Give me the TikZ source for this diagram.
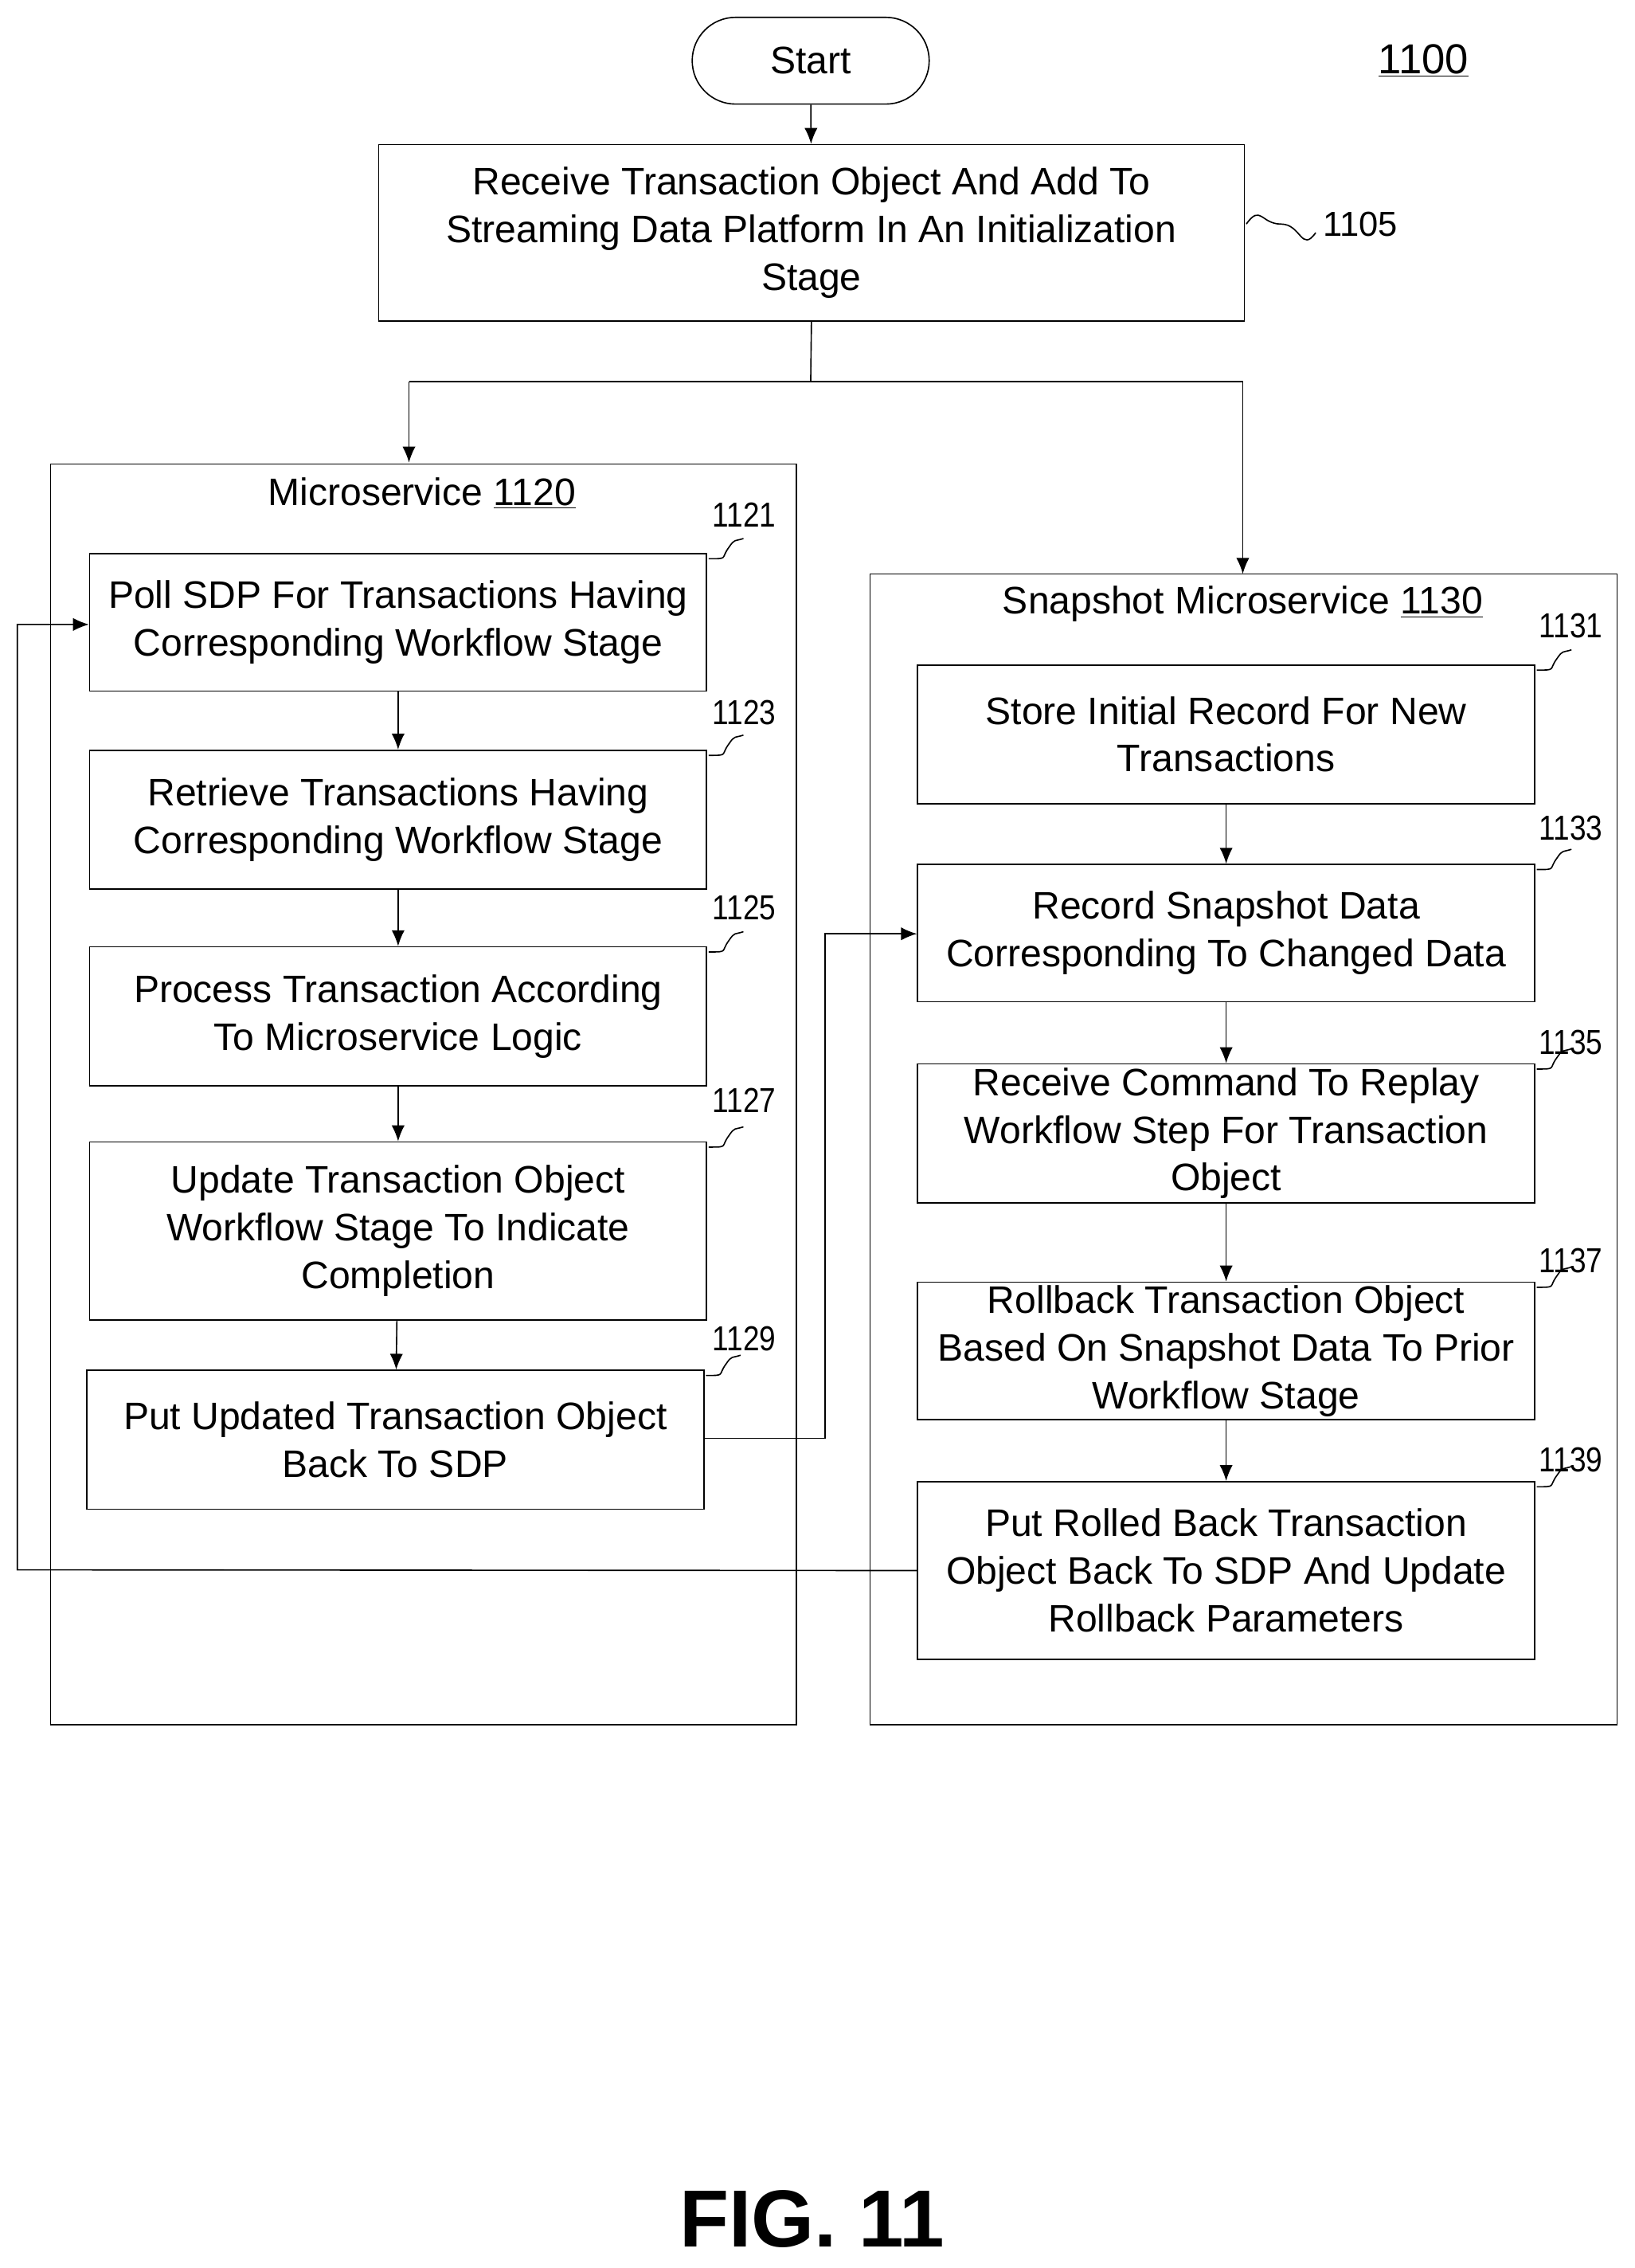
\documentclass[tikz,border=0pt]{standalone}
\usepackage{fontspec}
\setmainfont{Liberation Sans}
\usetikzlibrary{arrows.meta}
\begin{document}
\begin{tikzpicture}[x=1pt,y=-1pt,
 box/.style={draw,line width=0.9pt,align=center,inner sep=0pt,font=\fontsize{26.5}{33}\selectfont},
 cont/.style={draw,line width=0.9pt},
 lbl/.style={font=\fontsize{24}{26}\selectfont},
 arr/.style={-{Latex[length=11pt,width=9pt]},line width=0.9pt},
 ln/.style={line width=0.9pt}]
\useasboundingbox (0,0) rectangle (1131,1569);
\node[box,rounded corners=30pt,minimum width=164pt,minimum height=60pt] (start) at (561,42) {Start};
\node[font=\fontsize{29}{30}\selectfont] (n1100) at (985,42) {\underline{1100}};
\node[box,minimum width=599pt,minimum height=122pt] (b1105) at (561.5,161) {Receive Transaction Object And Add To\\Streaming Data Platform In An Initialization\\Stage};
\node[lbl,anchor=west] (l1105) at (912,155) {1105};
\draw[ln] (b1105.east)++(1,-6) coordinate (s0) .. controls +(10,-14) and +(-14,0) .. +(24,0) .. controls +(14,0) and +(-10,14) .. +(48,6);
\draw[arr] (start) -- (b1105);
% containers
\node[cont,minimum width=516pt,minimum height=872pt,inner sep=0pt] (ms) at (293,757) {};
\node[cont,minimum width=517pt,minimum height=796pt,inner sep=0pt] (ss) at (860.5,795) {};
\node[font=\fontsize{26.5}{30}\selectfont] (t1) at (292,341) {Microservice \underline{1120}};
\node[font=\fontsize{26.5}{30}\selectfont] (t2) at (860,418) {Snapshot Microservice \underline{1130}};
\coordinate (sp) at (561,264);
\coordinate (spl) at (283,264);
\coordinate (spr) at (860,264);
\draw[ln] (b1105.south) -- (sp);
\draw[arr] (spl) -- (283,320);
\draw[ln] (spl) -- (spr);
\draw[arr] (spr) -- (860,397);
% left boxes
\node[box,minimum width=427pt,minimum height=95pt] (b1121) at (275.5,430.5) {Poll SDP For Transactions Having\\Corresponding Workflow Stage};
\node[box,minimum width=427pt,minimum height=96pt] (b1123) at (275.5,567) {Retrieve Transactions Having\\Corresponding Workflow Stage};
\node[box,minimum width=427pt,minimum height=96pt] (b1125) at (275.5,703) {Process Transaction According\\To Microservice Logic};
\node[box,minimum width=427pt,minimum height=123pt] (b1127) at (275.5,851.5) {Update Transaction Object\\Workflow Stage To Indicate\\Completion};
\node[box,minimum width=427pt,minimum height=96pt] (b1129) at (273.5,996) {Put Updated Transaction Object\\Back To SDP};
\draw[arr] (b1121) -- (b1123);
\draw[arr] (b1123) -- (b1125);
\draw[arr] (b1125) -- (b1127);
\draw[arr] (b1127) -- (b1129);
% right boxes
\node[box,minimum width=427pt,minimum height=96pt] (b1131) at (848.5,508) {Store Initial Record For New\\Transactions};
\node[box,minimum width=427pt,minimum height=95pt] (b1133) at (848.5,645.5) {Record Snapshot Data\\Corresponding To Changed Data};
\node[box,minimum width=427pt,minimum height=96pt] (b1135) at (848.5,784) {Receive Command To Replay\\Workflow Step For Transaction\\Object};
\node[box,minimum width=427pt,minimum height=95pt] (b1137) at (848.5,934.5) {Rollback Transaction Object\\Based On Snapshot Data To Prior\\Workflow Stage};
\node[box,minimum width=427pt,minimum height=123pt] (b1139) at (848.5,1086.5) {Put Rolled Back Transaction\\Object Back To SDP And Update\\Rollback Parameters};
\draw[arr] (b1131) -- (b1133);
\draw[arr] (b1133) -- (b1135);
\draw[arr] (b1135) -- (b1137);
\draw[arr] (b1137) -- (b1139);
% cross connectors
\coordinate (c1) at (571,995);
\coordinate (c2) at (571,646);
\draw[arr] (b1129.east |- c1) -- (c1) -- (c2) -- (b1133.west |- c2);
\coordinate (f1) at (12,1086);
\coordinate (f2) at (12,432);
\draw[arr] (b1139.west) -- (f1) -- (f2) -- (b1121.west |- f2);
% labels
\foreach \b/\t/\lx/\ly in {b1121/1121/515/356,b1123/1123/515/493,b1125/1125/515/628,b1127/1127/515/761,b1129/1129/515/926,b1131/1131/1087/433,b1133/1133/1087/573,b1135/1135/1087/721,b1137/1137/1087/872,b1139/1139/1087/1010}{
 \node[lbl,xscale=0.85] (L\t) at (\lx,\ly) {\t};
 \draw[ln] (\b.north east) ++(1,4) .. controls +(14,0) and +(-6,8) .. +(14,-8) .. controls +(4,-6) and +(-6,2) .. +(24,-14);
}
\node[font=\fontsize{56}{60}\selectfont\bfseries] (fig) at (562,1535) {FIG. 11};
\end{tikzpicture}
\end{document}
